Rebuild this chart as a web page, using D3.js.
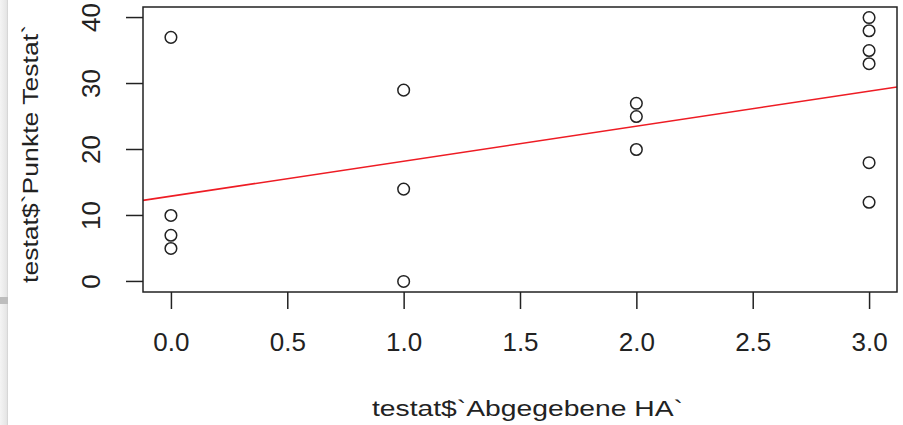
<!DOCTYPE html>
<html>
<head>
<meta charset="utf-8">
<script src="https://cdn.jsdelivr.net/npm/d3@7"></script>
<style>
  body { margin: 0; background: #fff; }
  svg { display: block; font-family: "Liberation Sans", Arial, sans-serif; }
</style>
</head>
<body>
<svg id="chart" width="903" height="425"></svg>
<script>
// Abgegebene HA (x) und Punkte Testat (y)
const abgegebeneHA = [0, 0, 0, 0, 1, 1, 1, 2, 2, 2, 3, 3, 3, 3, 3, 3];
const punkteTestat = [37, 10, 7, 5, 29, 14, 0, 27, 25, 20, 40, 38, 35, 33, 18, 12];
const xTicks = [0, 0.5, 1, 1.5, 2, 2.5, 3];
const yTicks = [0, 10, 20, 30, 40];

const plot = { left: 143, top: 7, right: 897, bottom: 292 };
const ink = '#222';
const font = '"Liberation Sans", Arial, sans-serif';

const svg = d3.select('#chart');

// linker Fensterrand aus dem Screenshot
const grad = svg.append('defs').append('linearGradient').attr('id', 'edge');
grad.append('stop').attr('offset', '0%').attr('stop-color', '#f4f4f4');
grad.append('stop').attr('offset', '80%').attr('stop-color', '#e6e6e6');
grad.append('stop').attr('offset', '100%').attr('stop-color', '#cfcfcf');
svg.append('rect').attr('x', 0).attr('y', 0).attr('width', 8).attr('height', 425).attr('fill', 'url(#edge)');
svg.append('rect').attr('x', 0).attr('y', 297).attr('width', 8).attr('height', 7).attr('fill', '#bdbdbd');

// R: Achsenbereich +/- 4%
const xr = d3.extent(abgegebeneHA);
const yr = d3.extent(punkteTestat);
const xPad = (xr[1] - xr[0]) * 0.04;
const yPad = (yr[1] - yr[0]) * 0.04;

const x = d3.scaleLinear()
  .domain([xr[0] - xPad, xr[1] + xPad])
  .range([plot.left, plot.right]);
const y = d3.scaleLinear()
  .domain([yr[0] - yPad, yr[1] + yPad])
  .range([plot.bottom, plot.top]);

const xAxis = d3.axisBottom(x)
  .tickValues(xTicks)
  .tickFormat(d3.format('.1f'))
  .tickSize(17)
  .tickPadding(24);
const yAxis = d3.axisLeft(y)
  .tickValues(yTicks)
  .tickSize(17);

const gx = svg.append('g')
  .attr('transform', `translate(0, ${ plot.bottom })`)
  .call(xAxis);
gx.select('.domain').remove();
gx.selectAll('line').attr('stroke', ink).attr('stroke-width', 1.5);
gx.selectAll('text')
  .attr('fill', ink)
  .attr('font-size', 26)
  .attr('font-family', font);

// y-Beschriftung wie in R senkrecht gedreht
const gy = svg.append('g')
  .attr('transform', `translate(${ plot.left }, 0)`)
  .call(yAxis);
gy.select('.domain').remove();
gy.selectAll('.tick').attr('transform', null);
gy.selectAll('.tick line')
  .attr('y1', d => y(d)).attr('y2', d => y(d))
  .attr('stroke', ink).attr('stroke-width', 1.5);
gy.selectAll('.tick text')
  .attr('fill', ink)
  .attr('font-size', 26)
  .attr('font-family', font)
  .attr('text-anchor', 'middle')
  .attr('x', 0)
  .attr('y', 0)
  .attr('dy', 0)
  .attr('transform', d => `translate(-43, ${ y(d) }) rotate(-90)`);

// Regressionsgerade (lm)
const mx = d3.mean(abgegebeneHA);
const my = d3.mean(punkteTestat);
const sxy = d3.sum(abgegebeneHA, (v, i) => (v - mx) * (punkteTestat[i] - my));
const sxx = d3.sum(abgegebeneHA, v => (v - mx) * (v - mx));
const slope = sxy / sxx;
const intercept = my - slope * mx;
const xd = x.domain();

svg.append('line')
  .attr('x1', x(xd[0])).attr('y1', y(intercept + slope * xd[0]))
  .attr('x2', x(xd[1])).attr('y2', y(intercept + slope * xd[1]))
  .attr('stroke', '#ee1c24')
  .attr('stroke-width', 1.6);

// Punkte
svg.selectAll('circle')
  .data(abgegebeneHA)
  .enter()
  .append('circle')
  .attr('cx', d => x(d))
  .attr('cy', (d, i) => y(punkteTestat[i]))
  .attr('r', 5.8)
  .attr('fill', 'none')
  .attr('stroke', ink)
  .attr('stroke-width', 1.5);

// Rahmen
svg.append('rect')
  .attr('x', plot.left).attr('y', plot.top)
  .attr('width', plot.right - plot.left).attr('height', plot.bottom - plot.top)
  .attr('fill', 'none')
  .attr('stroke', ink)
  .attr('stroke-width', 1.5);

// Achsentitel (im Screenshot etwas in die Breite gezogen)
svg.append('text')
  .attr('x', 372)
  .attr('y', 416)
  .attr('font-size', 22.5)
  .attr('fill', ink)
  .attr('textLength', 311)
  .attr('lengthAdjust', 'spacingAndGlyphs')
  .text('testat$`Abgegebene HA`');

svg.append('text')
  .attr('transform', 'translate(38, 283) rotate(-90)')
  .attr('font-size', 22.5)
  .attr('fill', ink)
  .attr('textLength', 258)
  .attr('lengthAdjust', 'spacingAndGlyphs')
  .text('testat$`Punkte Testat`');
</script>
</body>
</html>
